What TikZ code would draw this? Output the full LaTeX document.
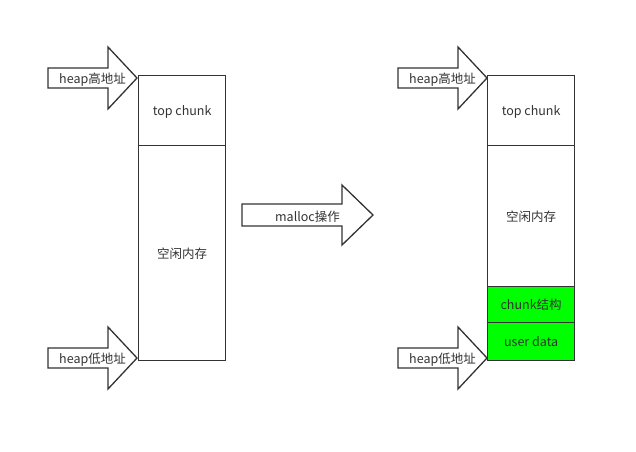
\documentclass[tikz,border=0pt]{standalone}
\usepackage{fontspec}
\setmainfont{Noto Sans CJK SC}
\begin{document}
\begin{tikzpicture}[x=1pt,y=-1pt,
  ln/.style={draw=black!80, line width=1.3pt},
  cell/.style={ln, anchor=north west, inner sep=0pt, text depth=-2pt, text=black!80, font=\fontsize{12.5}{14}\selectfont},
  lbl/.style={text=black!80, font=\fontsize{12.5}{14}\selectfont, inner sep=0pt, yshift=-1.5pt}]
\useasboundingbox (0,0) rectangle (636,451);
\tikzset{bigarr/.pic={
  \draw[ln, fill=white, line join=miter] (0,-10) -- (60,-10) -- (60,-31) -- (89,0) -- (60,31) -- (60,10) -- (0,10) -- cycle;
}}
% left column
\node[cell, minimum width=87pt, minimum height=70pt] (ltop) at (138,75) {top chunk};
\node[cell, minimum width=87pt, minimum height=215pt] (lfree) at (138,145) {空闲内存};
% right column
\node[cell, minimum width=87pt, minimum height=70pt] (rtop) at (487,75) {top chunk};
\node[cell, minimum width=87pt, minimum height=141pt] (rfree) at (487,145) {空闲内存};
\node[cell, fill=green, minimum width=87pt, minimum height=36pt] (rchunk) at (487,286) {chunk结构};
\node[cell, fill=green, minimum width=87pt, minimum height=38pt] (ruser) at (487,322) {user data};
% arrows
\pic at (48,78) {bigarr};
\node[lbl] (lhigh) at (92.5,78) {heap高地址};
\pic at (48,358) {bigarr};
\node[lbl] (llow) at (92.5,358) {heap低地址};
\pic at (398,78) {bigarr};
\node[lbl] (rhigh) at (442.5,78) {heap高地址};
\pic at (398,358) {bigarr};
\node[lbl] (rlow) at (442.5,358) {heap低地址};
\draw[ln, fill=white, line join=miter] (242,204) -- (342,204) -- (342,185) -- (373,215) -- (342,245) -- (342,226) -- (242,226) -- cycle;
\node[lbl] (malloc) at (307.5,215) {malloc操作};
\end{tikzpicture}
\end{document}
